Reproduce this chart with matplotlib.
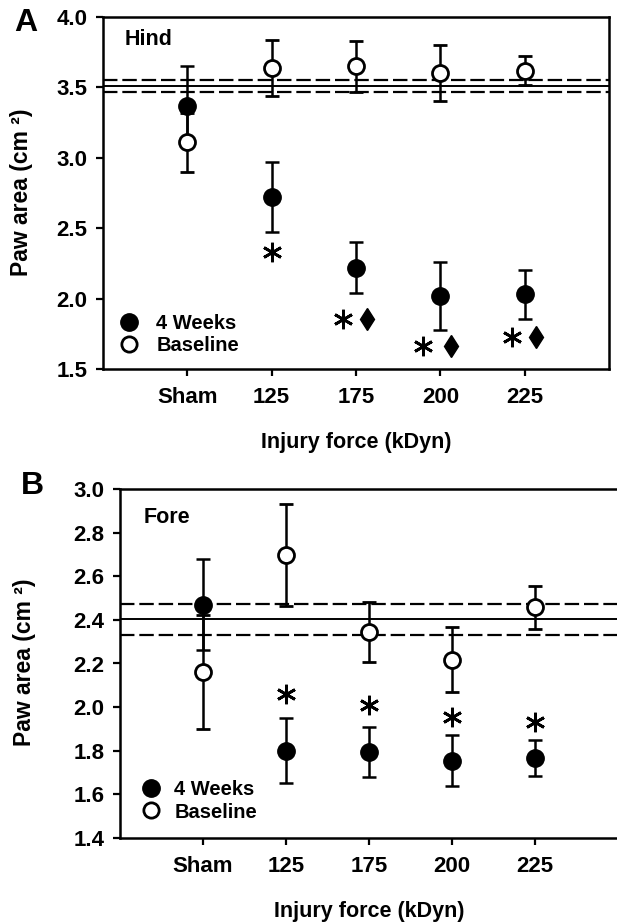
import matplotlib
matplotlib.use("Agg")
import matplotlib.pyplot as plt
from matplotlib.lines import Line2D
import numpy as np

plt.rcParams['font.family'] = ['Liberation Sans', 'DejaVu Sans']
plt.rcParams['font.weight'] = 'bold'

categories = ["Sham", "125", "175", "200", "225"]

# Panel A (Hind)
hind_4wk = [3.37, 2.72, 2.22, 2.02, 2.03]
hind_4wk_err = [0.28, 0.25, 0.18, 0.24, 0.175]
hind_base = [3.11, 3.64, 3.65, 3.60, 3.62]
hind_base_err = [0.21, 0.20, 0.18, 0.20, 0.10]
hind_ref_mean = 3.512
hind_ref_band = [3.465, 3.555]
hind_star_y = [None, 2.33, 1.855, 1.66, 1.73]
hind_diamond_y = [None, None, 1.855, 1.66, 1.73]

# Panel B (Fore)
fore_4wk = [2.47, 1.80, 1.795, 1.755, 1.765]
fore_4wk_err = [0.21, 0.148, 0.115, 0.116, 0.083]
fore_base = [2.162, 2.697, 2.345, 2.218, 2.457]
fore_base_err = [0.26, 0.235, 0.137, 0.15, 0.098]
fore_ref_mean = 2.405
fore_ref_band = [2.33, 2.472]
fore_star_y = [None, 2.062, 2.009, 1.955, 1.932]

W, H = 617, 922
fig = plt.figure(figsize=(W / 100, H / 100), dpi=100)

def px_axes(left, top, right, bottom):
    return fig.add_axes([left / W, 1 - bottom / H, (right - left) / W, (bottom - top) / H])

axA = px_axes(103, 17, 609, 369)
axB = px_axes(120, 489, 618, 838)

def draw_panel(ax, wk, wk_err, base, base_err, ref_mean, ref_band, ylim, yticks,
               name, name_xy, leg_anchor, leg_pad, star_y, diamond_y, star_dx, dia_dx):
    x = np.arange(len(categories))
    ax.axhline(ref_mean, color='black', lw=1.4, zorder=1)
    for v in ref_band:
        ax.axhline(v, color='black', lw=1.6, dashes=(6.5, 2.2), zorder=1)
    ekw = dict(ecolor='black', elinewidth=1.8, capsize=5, capthick=1.8, ls='none')
    ax.errorbar(x, wk, yerr=wk_err, fmt='o', ms=12.5, mfc='black', mec='black', zorder=3, **ekw)
    ax.errorbar(x, base, yerr=base_err, fmt='o', ms=11.5, mfc='white', mec='black', mew=2.0,
                zorder=4, **ekw)
    for i, sy in enumerate(star_y):
        if sy is not None:
            ax.plot(x[i] + star_dx[i], sy, marker=(6, 2, 0), ms=14, mew=2.0, color='black',
                    ls='none', zorder=5)
    if diamond_y is not None:
        for i, dy in enumerate(diamond_y):
            if dy is not None:
                ax.plot(x[i] + dia_dx, dy, marker='d', ms=11.5, color='black', ls='none', zorder=5)
    ax.set_xlim(-1, 5)
    ax.set_ylim(*ylim)
    ax.set_xticks(x)
    ax.set_xticklabels(categories)
    ax.set_yticks(yticks)
    ax.set_yticklabels([f"{t:.1f}" for t in yticks])
    ax.tick_params(axis='both', direction='out', length=5, width=1.6, labelsize=16)
    ax.tick_params(axis='x', pad=8)
    ax.tick_params(axis='y', pad=6)
    for lab in ax.get_xticklabels() + ax.get_yticklabels():
        lab.set_fontweight('bold')
    for s in ax.spines.values():
        s.set_linewidth(1.8)
    ax.text(name_xy[0], name_xy[1], name, transform=ax.transAxes, fontsize=15.5,
            fontweight='bold', ha='left', va='center')
    handles = [Line2D([], [], ls='none', marker='o', ms=12.5, mfc='black', mec='black'),
               Line2D([], [], ls='none', marker='o', ms=11, mfc='white', mec='black', mew=2.0)]
    ax.legend(handles, ["4 Weeks", "Baseline"], loc='center left', bbox_to_anchor=leg_anchor,
              frameon=False, borderpad=0, borderaxespad=0, handlelength=1.0,
              handletextpad=leg_pad, labelspacing=0.15, prop={'size': 14.5, 'weight': 'bold'})
    ax.set_xlabel("Injury force (kDyn)", fontsize=15.5, fontweight='bold', labelpad=17)

draw_panel(axA, hind_4wk, hind_4wk_err, hind_base, hind_base_err, hind_ref_mean, hind_ref_band,
           (1.5, 4.0), [1.5, 2.0, 2.5, 3.0, 3.5, 4.0], "Hind", (0.042, 0.937),
           (0.032, 0.099), 0.85, hind_star_y, hind_diamond_y,
           [0, 0, -0.16, -0.2, -0.15], 0.13)
draw_panel(axB, fore_4wk, fore_4wk_err, fore_base, fore_base_err, fore_ref_mean, fore_ref_band,
           (1.4, 3.0), [1.4, 1.6, 1.8, 2.0, 2.2, 2.4, 2.6, 2.8, 3.0], "Fore", (0.048, 0.917),
           (0.042, 0.106), 0.65, fore_star_y, None,
           [0, 0, 0, 0, 0], 0.0)

fig.text(22 / W, 1 - 192 / H, "Paw area (cm ²)", rotation=90, ha='center', va='center',
         fontsize=16.5, fontweight='bold')
fig.text(25 / W, 1 - 662 / H, "Paw area (cm ²)", rotation=90, ha='center', va='center',
         fontsize=16.5, fontweight='bold')
fig.text(26 / W, 1 - 23 / H, "A", ha='center', va='center', fontsize=23, fontweight='bold')
fig.text(32 / W, 1 - 486 / H, "B", ha='center', va='center', fontsize=23, fontweight='bold')

fig.savefig("out.png", dpi=100)
